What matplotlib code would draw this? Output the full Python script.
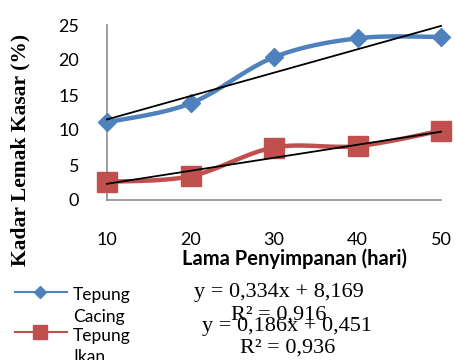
import numpy as np
import matplotlib
matplotlib.use("Agg")
import matplotlib.pyplot as plt
from matplotlib.lines import Line2D

days = [10, 20, 30, 40, 50]
tepung_cacing = [11.1, 13.8, 20.4, 23.1, 23.3]
tepung_ikan = [2.6, 3.4, 7.5, 7.7, 9.9]
trend_cacing = (0.334, 8.169)
trend_ikan = (0.186, 0.451)
eq_texts = ["y = 0,334x + 8,169", "R² = 0,916", "y = 0,186x + 0,451", "R² = 0,936"]
yticks = [0, 5, 10, 15, 20, 25]

blue = "#4F81BD"
red = "#C0504D"
W, H = 456, 360


def smooth(xs, ys, n=30):
    P = np.column_stack([xs, ys]).astype(float)
    out = [P[0]]
    m = len(P)
    for i in range(m - 1):
        p0 = P[max(i - 1, 0)]
        p1 = P[i]
        p2 = P[i + 1]
        p3 = P[min(i + 2, m - 1)]
        c1 = p1 + (p2 - p0) / 6
        c2 = p2 - (p3 - p1) / 6
        t = np.linspace(0, 1, n)[1:, None]
        seg = (1 - t) ** 3 * p1 + 3 * (1 - t) ** 2 * t * c1 + 3 * (1 - t) * t ** 2 * c2 + t ** 3 * p2
        out.extend(seg)
    out = np.array(out)
    return out[:, 0], out[:, 1]


fig = plt.figure(figsize=(W / 100, H / 100), dpi=100)
ax = fig.add_axes([107 / W, 1 - 200 / H, (441 - 107) / W, 175 / H])
ax.set_xlim(10, 50)
ax.set_ylim(0, 25)
for s in ["top", "right"]:
    ax.spines[s].set_visible(False)
for s in ["left", "bottom"]:
    ax.spines[s].set_color("#8c8c8c")
    ax.spines[s].set_linewidth(1.2)
ax.set_xticks(days)
ax.set_yticks(yticks)
ax.tick_params(axis="both", length=0, labelsize=13)
ax.tick_params(axis="x", pad=23)
ax.tick_params(axis="y", pad=20)
for lab in ax.get_xticklabels() + ax.get_yticklabels():
    lab.set_fontfamily("Lato")

for ys, col, mk, ms in [(tepung_cacing, blue, "D", 9), (tepung_ikan, red, "s", 14)]:
    sx, sy = smooth(days, ys)
    ax.plot(sx, sy, color=col, lw=3.2, clip_on=False, solid_capstyle="round", zorder=3)
    ax.plot(days, ys, ls="none", marker=mk, ms=ms, color=col, clip_on=False, zorder=4)

xx = np.array([days[0], days[-1]])
for a, b in [trend_cacing, trend_ikan]:
    ax.plot(xx, a * xx + b, color="black", lw=1.3, clip_on=False, zorder=5)

fig.text(20 / W, 1 - 150 / H, "Kadar Lemak Kasar (%)", rotation=90, ha="center", va="center",
         fontsize=15.5, fontweight="bold", family="Liberation Serif")
fig.text(295 / W, 1 - 259 / H, "Lama Penyimpanan (hari)", ha="center", va="center",
         fontsize=14.5, fontweight="bold", family="Lato")

# legend
for yl, col, mk, ms in [(292, blue, "D", 6), (332, red, "s", 10)]:
    fig.add_artist(Line2D([15 / W, 67 / W], [1 - yl / H, 1 - yl / H], color=col, lw=1.5,
                          transform=fig.transFigure))
    fig.add_artist(Line2D([40 / W], [1 - yl / H], marker=mk, ms=ms, color=col,
                          transform=fig.transFigure))
fig.text(73 / W, 1 - 295 / H, "Tepung", ha="left", va="center", fontsize=12.5, family="Lato")
fig.text(73 / W, 1 - 317 / H, "Cacing", ha="left", va="center", fontsize=12.5, family="Lato")
fig.text(73 / W, 1 - 336 / H, "Tepung", ha="left", va="center", fontsize=12.5, family="Lato")
fig.text(73 / W, 1 - 357 / H, "Ikan", ha="left", va="center", fontsize=12.5, family="Lato")

for (xc, yc), t in zip([(279, 292), (279, 315), (287, 326), (288, 348)], eq_texts):
    fig.text(xc / W, 1 - yc / H, t, ha="center", va="center", fontsize=16, family="Liberation Serif")

fig.savefig("out.png", dpi=100)
